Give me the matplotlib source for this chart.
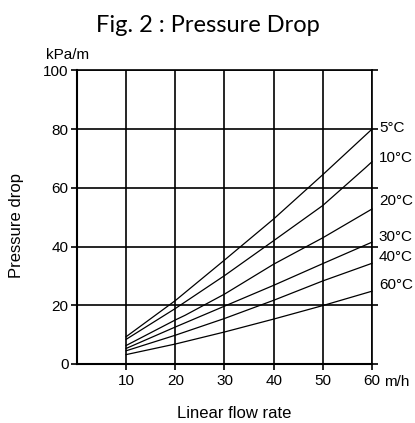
# coding: utf-8
import numpy as np
import matplotlib
matplotlib.use("Agg")
import matplotlib.pyplot as plt

# ================= 数据 =================
flow_rate = [10, 20, 30, 40, 50, 60]
flow_rate_10c = [10, 20, 30, 40, 50, 58.7, 60]
flow_rate_20c = [10, 20, 22, 30, 40, 50, 60]

drop_5c = [9.3, 21.6, 35.4, 49.4, 64.5, 80.0]
drop_10c = [8.4, 18.9, 30.1, 42.0, 54.0, 66.9, 68.9]
drop_20c = [6.3, 15.0, 16.6, 23.8, 34.0, 43.0, 52.8]
drop_30c = [5.3, 12.6, 19.7, 26.8, 34.2, 41.5]
drop_40c = [4.5, 9.8, 15.5, 21.7, 28.3, 34.3]
drop_60c = [3.2, 6.8, 10.9, 15.3, 19.9, 24.8]

temp_labels = ["5°C", "10°C", "20°C", "30°C", "40°C", "60°C"]
x_ticks = [10, 20, 30, 40, 50, 60]
y_ticks = [0, 20, 40, 60, 80, 100]

# ================= 配置参数 =================
PLOT_CONFIG = {
    "figure_size": (4.15, 4.23),
    "dpi": 100,
    "axes_rect": [0.1855, 0.1395, 0.7108, 0.6939],
    "font": "Liberation Sans",
    "title_font": "Lato",
    "line_width": 0.9,
    "grid_width": 1.2,
    "spine_width": 1.5,
    # 温度标签的位置 (数据坐标)
    "label_x": 61.4,
    "label_y": [80.4, 70.3, 55.4, 43.2, 36.4, 26.8],
}

plt.rcParams['font.family'] = [PLOT_CONFIG["font"], 'DejaVu Sans']


def plot_pressure_drop(output_path):
    fig = plt.figure(figsize=PLOT_CONFIG["figure_size"], dpi=PLOT_CONFIG["dpi"])
    ax = fig.add_axes(PLOT_CONFIG["axes_rect"])

    series = [
        (flow_rate, drop_5c),
        (flow_rate_10c, drop_10c),
        (flow_rate_20c, drop_20c),
        (flow_rate, drop_30c),
        (flow_rate, drop_40c),
        (flow_rate, drop_60c),
    ]
    for (xs, ys), name, ly in zip(series, temp_labels, PLOT_CONFIG["label_y"]):
        ax.plot(xs, ys, color="black", linewidth=PLOT_CONFIG["line_width"],
                solid_joinstyle="round", clip_on=False)
        ax.text(PLOT_CONFIG["label_x"], ly, name, fontsize=11,
                ha="left", va="center", clip_on=False)

    # 坐标轴
    ax.set_xlim(0, 60)
    ax.set_ylim(0, 100)
    ax.set_xticks(x_ticks)
    ax.set_yticks(y_ticks)
    ax.tick_params(axis="both", direction="out", length=4, width=1.2,
                   labelsize=11, pad=3)
    ax.tick_params(axis="y", right=True, labelright=False, pad=2)

    # 网格
    ax.grid(True, color="black", linewidth=PLOT_CONFIG["grid_width"])
    ax.set_axisbelow(True)
    for side in ["left", "bottom"]:
        ax.spines[side].set_linewidth(PLOT_CONFIG["spine_width"])
    for side in ["top", "right"]:
        ax.spines[side].set_linewidth(PLOT_CONFIG["grid_width"])

    # 文字
    W, H = fig.get_size_inches() * fig.dpi
    fig.text(208 / W, 1 - 25 / H, "Fig. 2 : Pressure Drop", ha="center", va="center",
             fontsize=17, family=[PLOT_CONFIG["title_font"], 'DejaVu Sans'])
    fig.text(46 / W, 1 - 55 / H, "kPa/m", ha="left", va="center", fontsize=11)
    fig.text(17 / W, 1 - 226 / H, "Pressure drop", ha="center", va="center",
             rotation=90, fontsize=12)
    fig.text(384 / W, 1 - 382 / H, "m/h", ha="left", va="center", fontsize=11)
    fig.text(234 / W, 1 - 413 / H, "Linear flow rate", ha="center", va="center",
             fontsize=12)

    fig.savefig(output_path, dpi=PLOT_CONFIG["dpi"], facecolor="white")
    plt.close(fig)


if __name__ == "__main__":
    plot_pressure_drop("out.png")
